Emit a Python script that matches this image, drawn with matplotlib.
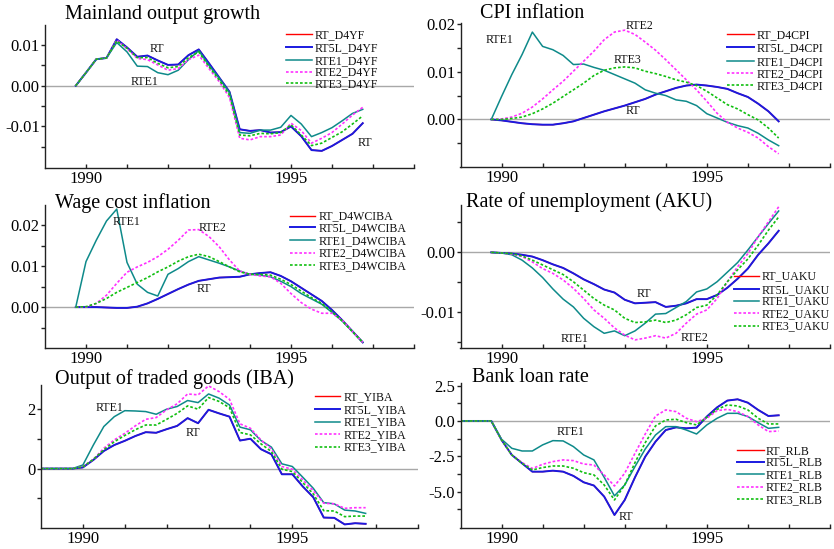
import matplotlib
matplotlib.use('Agg')
import matplotlib.pyplot as plt
from matplotlib.ticker import FixedLocator, FormatStrFormatter
from matplotlib.lines import Line2D

plt.rcParams['font.family'] = ['Liberation Serif', 'DejaVu Serif']
plt.rcParams['axes.unicode_minus'] = False

# ---------------- data ----------------
quarters = [1989.75, 1990.0, 1990.25, 1990.5, 1990.75, 1991.0, 1991.25, 1991.5, 1991.75,
            1992.0, 1992.25, 1992.5, 1992.75, 1993.0, 1993.25, 1993.5, 1993.75,
            1994.0, 1994.25, 1994.5, 1994.75, 1995.0, 1995.25, 1995.5, 1995.75,
            1996.0, 1996.25, 1996.5, 1996.75]
quarters_long = [1989.0, 1989.25, 1989.5] + quarters

series_names = ['RT', 'RT5L', 'RTE1', 'RTE2', 'RTE3']

# Mainland output growth (D4YF)
yf_rt = [0, 0.0032, 0.0065, 0.0068, 0.0114, 0.0094, 0.0071, 0.0074, 0.0062, 0.0051, 0.0052,
         0.0075, 0.0089, 0.0055, 0.0020, -0.0015, -0.0107, -0.0111, -0.0109, -0.0115, -0.0114,
         -0.0100, -0.0124, -0.0158, -0.0160, -0.0148, -0.0133, -0.0118, -0.0092]
yf_rt5l = yf_rt
yf_rte1 = [0, 0.0032, 0.0065, 0.0068, 0.0106, 0.0083, 0.0048, 0.0047, 0.0032, 0.0027, 0.0038,
           0.0064, 0.0086, 0.0050, 0.0018, -0.0017, -0.0115, -0.0117, -0.0109, -0.0109, -0.0102,
           -0.0073, -0.0094, -0.0125, -0.0115, -0.0103, -0.0086, -0.0068, -0.0058]
yf_rte2 = [0, 0.0032, 0.0065, 0.0068, 0.0112, 0.0091, 0.0067, 0.0064, 0.0051, 0.0038, 0.0042,
           0.0064, 0.0075, 0.0042, 0.0010, -0.0029, -0.0129, -0.0133, -0.0125, -0.0125, -0.0121,
           -0.0092, -0.0110, -0.0141, -0.0129, -0.0115, -0.0094, -0.0072, -0.0053]
yf_rte3 = [0, 0.0032, 0.0065, 0.0068, 0.0110, 0.0092, 0.0069, 0.0069, 0.0055, 0.0044, 0.0047,
           0.0069, 0.0083, 0.0047, 0.0014, -0.0023, -0.0121, -0.0123, -0.0117, -0.0118, -0.0115,
           -0.0096, -0.0121, -0.0147, -0.0141, -0.0127, -0.0113, -0.0094, -0.0074]

# CPI inflation (D4CPI)
cpi_rt = [0, -0.0002, -0.0005, -0.0008, -0.0010, -0.0011, -0.0011, -0.0008, -0.0004, 0.0003,
          0.0010, 0.0017, 0.0023, 0.0029, 0.0036, 0.0043, 0.0052, 0.0059, 0.0066, 0.0071,
          0.0073, 0.0071, 0.0068, 0.0064, 0.0055, 0.0047, 0.0033, 0.0017, -0.0004]
cpi_rt5l = cpi_rt
cpi_rte1 = [0, 0.0048, 0.0094, 0.0136, 0.0183, 0.0153, 0.0146, 0.0134, 0.0115, 0.0116, 0.0109,
            0.0103, 0.0094, 0.0085, 0.0076, 0.0062, 0.0055, 0.0050, 0.0041, 0.0038, 0.0029,
            0.0012, 0.0003, -0.0006, -0.0013, -0.0018, -0.0029, -0.0043, -0.0055]
cpi_rte2 = [0, 0.0001, 0.0005, 0.0013, 0.0026, 0.0043, 0.0062, 0.0080, 0.0101, 0.0122, 0.0143,
            0.0167, 0.0183, 0.0187, 0.0178, 0.0162, 0.0145, 0.0125, 0.0104, 0.0083, 0.0062,
            0.0038, 0.0013, -0.0006, -0.0018, -0.0027, -0.0039, -0.0057, -0.0072]
cpi_rte3 = [0, 0.0, 0.0002, 0.0005, 0.0012, 0.0022, 0.0034, 0.0048, 0.0062, 0.0076, 0.0092,
            0.0103, 0.0108, 0.0110, 0.0108, 0.0101, 0.0096, 0.0090, 0.0083, 0.0078, 0.0071,
            0.0059, 0.0045, 0.0031, 0.0022, 0.0010, -0.0001, -0.0018, -0.0039]

# Wage cost inflation (D4WCIBA)
wc_rt = [0, 0, 0, -0.0001, -0.0002, -0.0002, 0.0001, 0.0009, 0.0020, 0.0032, 0.0044, 0.0055,
         0.0064, 0.0068, 0.0072, 0.0073, 0.0074, 0.0080, 0.0083, 0.0085, 0.0076, 0.0063, 0.0047,
         0.0031, 0.0015, -0.0007, -0.0032, -0.0059, -0.0086]
wc_rt5l = wc_rt
wc_rte1 = [0, 0.0111, 0.0163, 0.0210, 0.0239, 0.0109, 0.0056, 0.0036, 0.0027, 0.0080, 0.0094,
           0.0111, 0.0123, 0.0115, 0.0107, 0.0098, 0.0088, 0.0080, 0.0078, 0.0074, 0.0063,
           0.0050, 0.0033, 0.0020, 0.0007, -0.0013, -0.0034, -0.0060, -0.0086]
wc_rte2 = [0, 0, 0.0009, 0.0029, 0.0058, 0.0085, 0.0098, 0.0109, 0.0123, 0.0141, 0.0163,
           0.0188, 0.0189, 0.0172, 0.0147, 0.0115, 0.0088, 0.0080, 0.0076, 0.0074, 0.0058,
           0.0033, 0.0011, -0.0005, -0.0015, -0.0015, -0.0032, -0.0060, -0.0086]
wc_rte3 = [0, 0.0001, 0.0009, 0.0021, 0.0036, 0.0048, 0.0060, 0.0072, 0.0086, 0.0098, 0.0112,
           0.0123, 0.0129, 0.0123, 0.0111, 0.0098, 0.0086, 0.0080, 0.0080, 0.0078, 0.0068,
           0.0055, 0.0039, 0.0023, 0.0009, -0.0011, -0.0034, -0.0060, -0.0086]

# Rate of unemployment (UAKU)
u_rt = [0, -0.0001, -0.0002, -0.0004, -0.0007, -0.0013, -0.0020, -0.0026, -0.0035, -0.0045,
        -0.0053, -0.0062, -0.0067, -0.0079, -0.0085, -0.0084, -0.0083, -0.0091, -0.0089,
        -0.0085, -0.0078, -0.0078, -0.0071, -0.0059, -0.0044, -0.0027, -0.0004, 0.0015, 0.0036]
u_rt5l = u_rt
u_rte1 = [0, -0.0001, -0.0004, -0.0013, -0.0026, -0.0042, -0.0061, -0.0078, -0.0091, -0.0110,
          -0.0124, -0.0135, -0.0131, -0.0139, -0.0131, -0.0118, -0.0103, -0.0102, -0.0092,
          -0.0082, -0.0066, -0.0061, -0.0049, -0.0033, -0.0017, 0.0004, 0.0026, 0.0048, 0.0069]
u_rte2 = [0, -0.0001, -0.0003, -0.0007, -0.0016, -0.0027, -0.0035, -0.0046, -0.0060, -0.0077,
          -0.0096, -0.0110, -0.0126, -0.0138, -0.0146, -0.0143, -0.0139, -0.0143, -0.0135,
          -0.0118, -0.0103, -0.0096, -0.0077, -0.0049, -0.0024, -0.0002, 0.0026, 0.0051, 0.0076]
u_rte3 = [0, -0.0001, -0.0002, -0.0006, -0.0013, -0.0021, -0.0029, -0.0037, -0.0049, -0.0063,
          -0.0077, -0.0088, -0.0096, -0.0110, -0.0117, -0.0116, -0.0113, -0.0117, -0.0113,
          -0.0104, -0.0092, -0.0088, -0.0071, -0.0049, -0.0029, -0.0011, 0.0012, 0.0037, 0.0059]

# Output of traded goods (YIBA)
yiba_rt = [0, 0, 0, 0, 0.04, 0.29, 0.59, 0.79, 0.93, 1.09, 1.22, 1.20, 1.32, 1.43, 1.69, 1.52,
           1.97, 1.85, 1.74, 0.94, 1.00, 0.65, 0.48, -0.19, -0.19, -0.60, -0.96, -1.64, -1.65,
           -1.87, -1.83, -1.85]
yiba_rt5l = yiba_rt
yiba_rte1 = [0, 0, 0, 0, 0.12, 0.79, 1.41, 1.74, 1.94, 1.93, 1.91, 1.82, 1.99, 2.08, 2.28, 2.21,
             2.50, 2.36, 2.13, 1.39, 1.30, 0.94, 0.72, 0.16, 0.07, -0.29, -0.66, -1.14, -1.18,
             -1.39, -1.42, -1.50]
yiba_rte2 = [0, 0, 0, 0, 0.07, 0.31, 0.68, 0.96, 1.18, 1.43, 1.65, 1.71, 1.97, 2.17, 2.50, 2.47,
             2.77, 2.58, 2.32, 1.50, 1.35, 0.96, 0.66, 0.07, -0.02, -0.38, -0.74, -1.16, -1.18,
             -1.33, -1.31, -1.31]
yiba_rte3 = [0, 0, 0, 0, 0.06, 0.31, 0.63, 0.90, 1.11, 1.30, 1.46, 1.46, 1.65, 1.85, 2.10, 1.99,
             2.38, 2.25, 2.04, 1.21, 1.13, 0.83, 0.57, -0.02, -0.10, -0.47, -0.85, -1.41, -1.42,
             -1.61, -1.59, -1.59]

# Bank loan rate (RLB)
rlb_rt = [0, 0, 0, 0, -1.34, -2.40, -2.99, -3.58, -3.58, -3.51, -3.58, -3.88, -4.33, -4.56,
          -5.34, -6.64, -5.58, -3.98, -2.52, -1.46, -0.64, -0.45, -0.52, -0.47, 0.31, 0.96,
          1.44, 1.53, 1.29, 0.78, 0.35, 0.40]
rlb_rt5l = rlb_rt
rlb_rte1 = [0, 0, 0, 0, -1.29, -1.93, -2.12, -2.12, -1.69, -1.39, -1.41, -1.81, -2.40, -2.75,
            -3.98, -5.29, -4.52, -3.22, -1.98, -0.99, -0.40, -0.40, -0.64, -0.92, -0.28, 0.19,
            0.54, 0.54, 0.31, -0.12, -0.52, -0.45]
rlb_rte2 = [0, 0, 0, 0, -1.34, -2.40, -2.94, -3.36, -3.06, -2.87, -2.75, -2.80, -3.04, -3.11,
            -3.81, -4.59, -3.69, -2.28, -0.92, 0.35, 0.78, 0.66, 0.19, -0.05, 0.19, 0.73,
            0.82, 0.66, 0.31, -0.28, -0.75, -0.71]
rlb_rte3 = [0, 0, 0, 0, -1.34, -2.40, -2.99, -3.46, -3.29, -3.18, -3.18, -3.34, -3.65, -3.81,
            -4.52, -5.58, -4.52, -2.94, -1.53, -0.35, 0.07, 0.12, -0.12, -0.28, 0.26, 0.82,
            1.13, 1.06, 0.78, 0.19, -0.21, -0.21]

# ---------------- styling ----------------
W, H = 834, 549
fig = plt.figure(figsize=(W / 100, H / 100), dpi=100)

styles = {
    'RT':   dict(color='#ff0000', lw=1.0, ls='-'),
    'RT5L': dict(color='#1a1ae0', lw=1.4, ls='-'),
    'RTE1': dict(color='#0e8a8a', lw=1.1, ls='-'),
    'RTE2': dict(color='#ff30ff', lw=1.2, ls=(0, (1.6, 1.2))),
    'RTE3': dict(color='#10bf10', lw=1.2, ls=(0, (1.6, 1.2))),
}

TICK_FS = 12
TITLE_FS = 14.5
SMALL_FS = 8.6


def px_axes(left, top, right, bottom):
    return fig.add_axes([left / W, 1 - bottom / H, (right - left) / W, (bottom - top) / H])


panels = [
    dict(box=(45, 25, 414, 168), x=quarters,
         data=[yf_rt, yf_rt5l, yf_rte1, yf_rte2, yf_rte3], suffix='D4YF',
         ylim=(-0.0202, 0.0149), major=[-0.01, 0.0, 0.01], minor=[-0.015, -0.005, 0.005],
         fmt='%.2f', title='Mainland output growth', title_xy=(65, 14),
         labels=[('RT', 1991.74, 0.0090), ('RTE1', 1991.44, 0.0008), ('RT', 1996.8, -0.0140)],
         leg=(286, 312, 314.5, [34.3, 47.3, 60.0, 71.7, 83.3])),
    dict(box=(460.5, 23, 830, 166.7), x=quarters,
         data=[cpi_rt, cpi_rt5l, cpi_rte1, cpi_rte2, cpi_rte3], suffix='D4CPI',
         ylim=(-0.0099, 0.0202), major=[0.0, 0.01, 0.02], minor=[-0.005, 0.005, 0.015],
         fmt='%.2f', title='CPI inflation', title_xy=(480, 14),
         labels=[('RTE1', 1989.96, 0.0167), ('RTE2', 1993.35, 0.0195),
                 ('RTE3', 1993.06, 0.0124), ('RT', 1993.2, 0.0018)],
         leg=(727, 754, 756.5, [34.3, 47.3, 61.0, 73.3, 85.0])),
    dict(box=(45, 205, 414, 347.7), x=quarters,
         data=[wc_rt, wc_rt5l, wc_rte1, wc_rte2, wc_rte3], suffix='D4WCIBA',
         ylim=(-0.0099, 0.0249), major=[0.0, 0.01, 0.02], minor=[-0.005, 0.005, 0.015],
         fmt='%.2f', title='Wage cost inflation', title_xy=(55, 203),
         labels=[('RTE1', 1990.99, 0.0208), ('RTE2', 1993.09, 0.0193), ('RT', 1992.88, 0.0044)],
         leg=(290, 315, 318.5, [215.7, 227.3, 240.0, 252.7, 265.0])),
    dict(box=(460.5, 205, 830, 348.3), x=quarters,
         data=[u_rt, u_rt5l, u_rte1, u_rte2, u_rte3], suffix='UAKU',
         ylim=(-0.0160, 0.0079), major=[-0.01, 0.0], minor=[-0.015, -0.005, 0.005],
         fmt='%.2f', title='Rate of unemployment (AKU)', title_xy=(466, 202),
         labels=[('RT', 1993.46, -0.0069), ('RTE1', 1991.79, -0.0144), ('RTE2', 1994.69, -0.0143)],
         leg=(734, 759, 762, [275.7, 289.0, 300.7, 313.3, 325.7])),
    dict(box=(41, 385, 418, 528.3), x=quarters_long,
         data=[yiba_rt, yiba_rt5l, yiba_rte1, yiba_rte2, yiba_rte3], suffix='YIBA',
         ylim=(-2.0, 2.8), major=[0, 2], minor=[-1, 1],
         fmt='%d', title='Output of traded goods (IBA)', title_xy=(55, 379),
         labels=[('RTE1', 1990.64, 2.02), ('RT', 1992.63, 1.18)],
         leg=(315, 340, 343.5, [396.0, 409.3, 421.7, 434.3, 446.7])),
    dict(box=(460.5, 383.3, 830, 528.3), x=quarters_long,
         data=[rlb_rt, rlb_rt5l, rlb_rte1, rlb_rte2, rlb_rte3], suffix='RLB',
         ylim=(-7.58, 2.66), major=[-5.0, -2.5, 0.0, 2.5], minor=[-6.25, -3.75, -1.25, 1.25],
         fmt='%.1f', title='Bank loan rate', title_xy=(472, 378),
         labels=[('RTE1', 1991.68, -0.75), ('RT', 1993.03, -6.75)],
         leg=(737, 764, 765.5, [450.0, 461.7, 474.3, 486.7, 499.3])),
]

for p in panels:
    ax = px_axes(*p['box'])
    ax.set_xlim(1989.0, 1998.0)
    ax.set_ylim(*p['ylim'])
    ax.axhline(0, color='#a8a8a8', lw=1.0, zorder=1)
    for name, vals in zip(series_names, p['data']):
        st = styles[name]
        ax.plot(p['x'], vals, color=st['color'], lw=st['lw'], ls=st['ls'], zorder=2)
    for spine in ['top', 'right']:
        ax.spines[spine].set_visible(False)
    for spine in ['left', 'bottom']:
        ax.spines[spine].set_linewidth(1.0)
        ax.spines[spine].set_color('#222222')
    ax.xaxis.set_major_locator(FixedLocator([1990, 1995]))
    ax.xaxis.set_minor_locator(FixedLocator([1991, 1992, 1993, 1994, 1996, 1997, 1998]))
    ax.xaxis.set_major_formatter(FormatStrFormatter('%d'))
    ax.yaxis.set_major_locator(FixedLocator(p['major']))
    ax.yaxis.set_minor_locator(FixedLocator(p['minor']))
    ax.yaxis.set_major_formatter(FormatStrFormatter(p['fmt']))
    ax.tick_params(axis='both', which='both', length=3.1, width=1.0,
                   color='#222222', labelsize=TICK_FS)
    ax.tick_params(axis='x', which='both', direction='in', pad=2.2)
    ax.tick_params(axis='y', which='both', direction='out', pad=0.6)
    ax.patch.set_alpha(0)
    for txt, lx, ly in p['labels']:
        ax.text(lx, ly, txt, fontsize=SMALL_FS, ha='center', va='center', color='#111111')
    fig.text(p['title_xy'][0] / W, 1 - p['title_xy'][1] / H, p['title'],
             fontsize=TITLE_FS, ha='left', va='center')
    x0, x1, tx, ys = p['leg']
    for name, yc in zip(series_names, ys):
        st = styles[name]
        fig.add_artist(Line2D([x0 / W, x1 / W], [1 - yc / H, 1 - yc / H],
                              color=st['color'], lw=st['lw'], ls=st['ls'],
                              transform=fig.transFigure))
        fig.text(tx / W, 1 - (yc + 3.8) / H, f"{name}_{p['suffix']}",
                 fontsize=SMALL_FS, ha='left', va='baseline', color='#111111')

fig.savefig('out.png', dpi=100)
